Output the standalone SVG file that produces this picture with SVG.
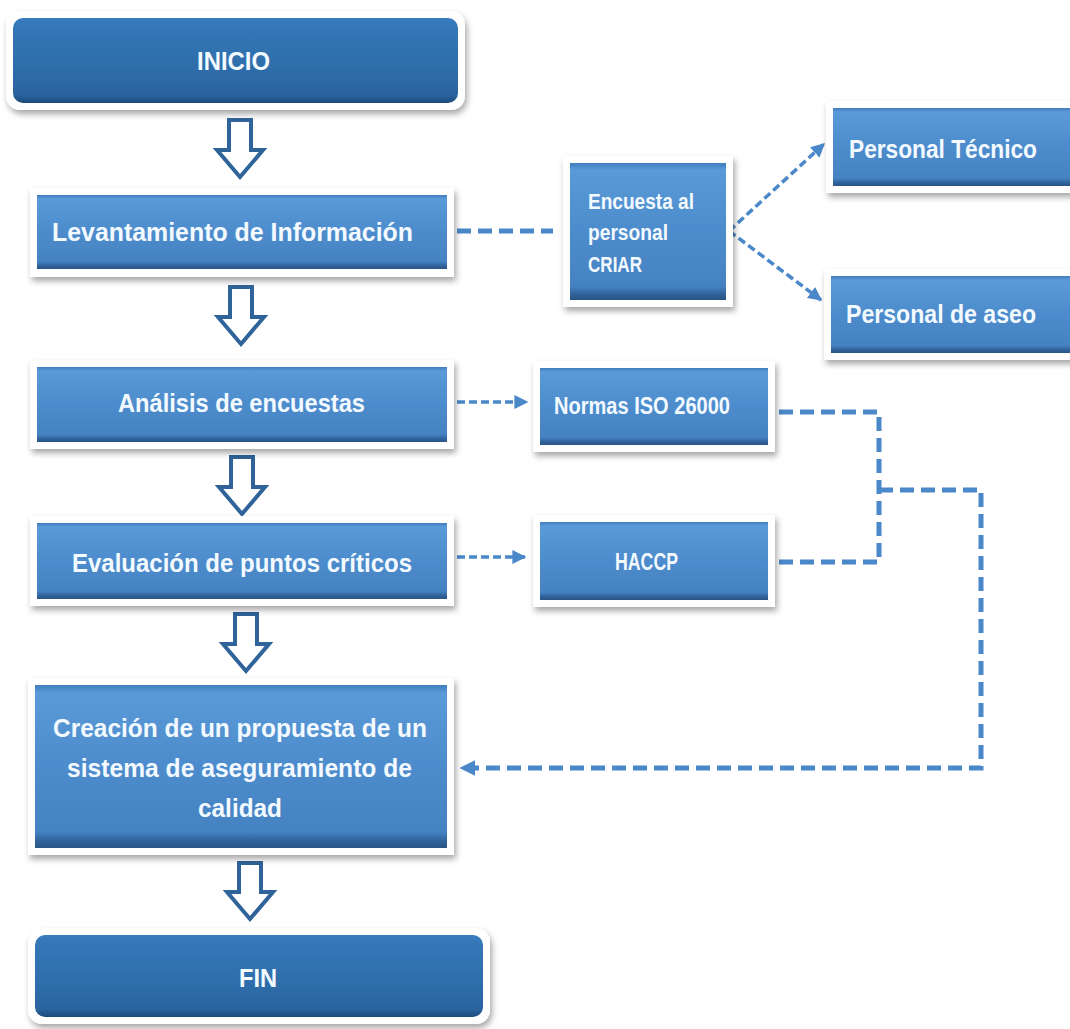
<svg xmlns="http://www.w3.org/2000/svg" width="1070" height="1029" viewBox="0 0 1070 1029">
<defs>
<filter id="sh" x="-10%" y="-15%" width="125%" height="140%">
<feDropShadow dx="2" dy="4" stdDeviation="3" flood-color="#000" flood-opacity="0.35"/>
</filter>
<linearGradient id="gBox" x1="0" y1="0" x2="0" y2="1">
<stop offset="0" stop-color="#3f7dbf"/>
<stop offset="0.05" stop-color="#5b9ad8"/>
<stop offset="0.5" stop-color="#4d8ccc"/>
<stop offset="0.9" stop-color="#4582c2"/>
<stop offset="0.96" stop-color="#2f6198"/>
<stop offset="1" stop-color="#2a5585"/>
</linearGradient>
<linearGradient id="gDark" x1="0" y1="0" x2="0" y2="1">
<stop offset="0" stop-color="#3a7cc0"/>
<stop offset="0.08" stop-color="#3478b8"/>
<stop offset="0.6" stop-color="#2e6daa"/>
<stop offset="0.9" stop-color="#2a64a0"/>
<stop offset="1" stop-color="#1d4a7a"/>
</linearGradient>
<marker id="ah" viewBox="0 0 10 10" refX="9" refY="5" markerWidth="4" markerHeight="4" orient="auto" markerUnits="strokeWidth">
<path d="M0,0 L10,5 L0,10 z" fill="#4a88c9"/>
</marker>
<marker id="ahBig" viewBox="0 0 10 10" refX="9" refY="5" markerWidth="3.2" markerHeight="3.2" orient="auto" markerUnits="strokeWidth">
<path d="M0,0 L10,5 L0,10 z" fill="#4a88c9"/>
</marker>
</defs>
<style>
.frame{fill:#ffffff;filter:url(#sh)}
.box{fill:url(#gBox)}
.dark{fill:url(#gDark)}
.t{font-family:"Liberation Sans",Arial,sans-serif;font-weight:bold;fill:#f3faff}
.hollow{fill:#ffffff;stroke:#2f6399;stroke-width:4;stroke-linejoin:miter}
.dashThick{fill:none;stroke:#4a88c9;stroke-width:5;stroke-dasharray:14 7}
.dashThin{fill:none;stroke:#4a88c9;stroke-width:3.5;stroke-dasharray:8 4}
</style>
<rect width="1070" height="1029" fill="#ffffff"/>

<g id="connectors">
<polygon class="hollow" points="229,120 251,120 251,150 263,150 240,177 217,150 229,150"/>
<polygon class="hollow" points="230,287 252,287 252,317 264,317 241,344 218,317 230,317"/>
<polygon class="hollow" points="231,457 253,457 253,487 265,487 242,514 219,487 231,487"/>
<polygon class="hollow" points="235,614 257,614 257,644 269,644 246,671 223,644 235,644"/>
<polygon class="hollow" points="239,863 261,863 261,892 273,892 250,919 227,892 239,892"/>
<path class="dashThick" d="M457,231 H553"/>
<path class="dashThin" d="M729,231 L824,144" marker-end="url(#ah)"/>
<path class="dashThin" d="M729,231 L821,300" marker-end="url(#ah)"/>
<path class="dashThin" d="M457,402 H527" marker-end="url(#ah)"/>
<path class="dashThin" d="M457,557 H525" marker-end="url(#ah)"/>
<path class="dashThick" d="M779,412 H879 V562 H779"/>
<path class="dashThick" d="M879,490 H981 V768 H461" marker-end="url(#ahBig)"/>
</g>

<g id="inicio">
<rect class="frame" x="6" y="11" width="459" height="99" rx="14"/>
<rect class="dark" x="13" y="18" width="445" height="85" rx="10"/>
<text class="t" x="197" y="70" font-size="26" textLength="73" lengthAdjust="spacingAndGlyphs">INICIO</text>
</g>

<g id="levantamiento">
<rect class="frame" x="30" y="188" width="424" height="89"/>
<rect class="box" x="37" y="195" width="410" height="74"/>
<text class="t" x="52" y="241" font-size="26" textLength="361" lengthAdjust="spacingAndGlyphs">Levantamiento de Información</text>
</g>

<g id="encuesta">
<rect class="frame" x="563" y="156" width="170" height="151"/>
<rect class="box" x="570" y="163" width="156" height="137"/>
<text class="t" x="588" y="209" font-size="22" textLength="106" lengthAdjust="spacingAndGlyphs">Encuesta al</text>
<text class="t" x="588" y="240" font-size="22" textLength="80" lengthAdjust="spacingAndGlyphs">personal</text>
<text class="t" x="588" y="272" font-size="22" textLength="54" lengthAdjust="spacingAndGlyphs">CRIAR</text>
</g>

<g id="personal-tecnico">
<rect class="frame" x="826" y="101" width="260" height="92"/>
<rect class="box" x="833" y="108" width="250" height="78"/>
<text class="t" x="849" y="158" font-size="25" textLength="188" lengthAdjust="spacingAndGlyphs">Personal Técnico</text>
</g>

<g id="personal-aseo">
<rect class="frame" x="824" y="269" width="260" height="91"/>
<rect class="box" x="831" y="276" width="250" height="77"/>
<text class="t" x="846" y="323" font-size="25" textLength="190" lengthAdjust="spacingAndGlyphs">Personal de aseo</text>
</g>

<g id="analisis">
<rect class="frame" x="30" y="360" width="424" height="89"/>
<rect class="box" x="37" y="367" width="410" height="75"/>
<text class="t" x="118" y="412" font-size="26" textLength="247" lengthAdjust="spacingAndGlyphs">Análisis de encuestas</text>
</g>

<g id="normas">
<rect class="frame" x="533" y="361" width="242" height="91"/>
<rect class="box" x="540" y="368" width="228" height="77"/>
<text class="t" x="554" y="414" font-size="24" textLength="176" lengthAdjust="spacingAndGlyphs">Normas ISO 26000</text>
</g>

<g id="evaluacion">
<rect class="frame" x="30" y="516" width="424" height="90"/>
<rect class="box" x="37" y="523" width="410" height="76"/>
<text class="t" x="72" y="572" font-size="26" textLength="340" lengthAdjust="spacingAndGlyphs">Evaluación de puntos críticos</text>
</g>

<g id="haccp">
<rect class="frame" x="533" y="515" width="242" height="92"/>
<rect class="box" x="540" y="522" width="228" height="78"/>
<text class="t" x="615" y="570" font-size="24" textLength="63" lengthAdjust="spacingAndGlyphs">HACCP</text>
</g>

<g id="creacion">
<rect class="frame" x="28" y="678" width="426" height="177"/>
<rect class="box" x="35" y="685" width="412" height="163"/>
<text class="t" x="53" y="737" font-size="26" textLength="374" lengthAdjust="spacingAndGlyphs">Creación de un propuesta de un</text>
<text class="t" x="67" y="777" font-size="26" textLength="345" lengthAdjust="spacingAndGlyphs">sistema de aseguramiento de</text>
<text class="t" x="198" y="817" font-size="26" textLength="84" lengthAdjust="spacingAndGlyphs">calidad</text>
</g>

<g id="fin">
<rect class="frame" x="28" y="928" width="462" height="96" rx="14"/>
<rect class="dark" x="35" y="935" width="448" height="82" rx="10"/>
<text class="t" x="239" y="987" font-size="26" textLength="38" lengthAdjust="spacingAndGlyphs">FIN</text>
</g>
</svg>
